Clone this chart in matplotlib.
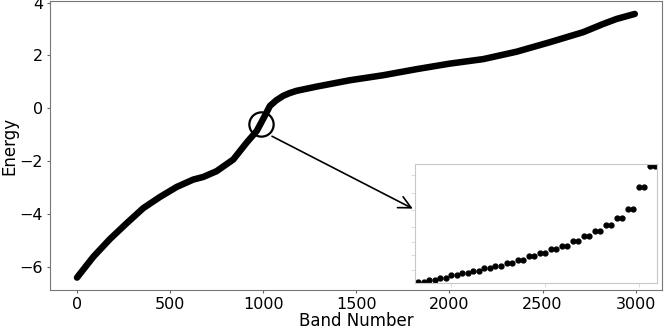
import matplotlib.pyplot as plt

# main curve, points
bands = [0, 88, 177, 267, 356, 445, 535, 624, 678, 750, 839, 911, 965,
         1000, 1036, 1070, 1107, 1140, 1179, 1287, 1465, 1644, 1823, 2002,
         2181, 2360, 2539, 2718, 2825, 2897, 2995]
energy = [-6.41, -5.62, -4.95, -4.35, -3.78, -3.36, -2.98, -2.70, -2.60,
          -2.38, -1.94, -1.30, -0.86, -0.40, 0.09, 0.30, 0.47, 0.57, 0.66,
          0.82, 1.06, 1.25, 1.48, 1.69, 1.86, 2.14, 2.50, 2.88, 3.19, 3.38,
          3.57]

# zoomed bands (inset), degenerate pairs
pair_levels = [-0.895, -0.888, -0.880, -0.869, -0.861, -0.851, -0.841,
               -0.831, -0.820, -0.807, -0.792, -0.780, -0.765, -0.751,
               -0.732, -0.712, -0.693, -0.669, -0.641, -0.604, -0.517,
               -0.431]
inset_energy = [e for e in pair_levels for _ in range(2)]
inset_bands = list(range(966, 966 + len(inset_energy)))

circle_center = (988, -0.61)
arrow_start = (1047, -1.06)
arrow_end = (1803, -3.80)

fig = plt.figure(figsize=(6.64, 3.30), dpi=100)
ax = fig.add_axes([50 / 664, 40 / 330, 612 / 664, 289 / 330])

ax.plot(bands, energy, color="black", lw=4.7, solid_capstyle="round",
        solid_joinstyle="round")

ax.plot(*circle_center, marker="o", markersize=17.5, fillstyle="none",
        markeredgecolor="black", markeredgewidth=1.6)

ax.annotate("", xy=arrow_end, xytext=arrow_start,
            arrowprops=dict(arrowstyle="->", color="black", lw=1.2,
                            mutation_scale=22, shrinkA=0, shrinkB=0))

ax.set_xlim(-145, 3141)
ax.set_ylim(-6.88, 4.06)
ax.set_xticks([0, 500, 1000, 1500, 2000, 2500, 3000])
ax.set_yticks([-6, -4, -2, 0, 2, 4])
ax.tick_params(labelsize=11.5, color="#666666", length=2.5, pad=2.5)
for s in ax.spines.values():
    s.set_color("#777777")
ax.set_xlabel("Band Number", fontsize=12, labelpad=0)
ax.set_ylabel("Energy", fontsize=12, labelpad=1)

ins = fig.add_axes([415 / 664, 47 / 330, 242 / 664, 119 / 330])
ins.plot(inset_bands, inset_energy, "o", color="black", markersize=3.5)
ins.set_xlim(inset_bands[0] - 0.6, inset_bands[-1] + 0.3)
ins.set_ylim(-0.900, -0.424)
ins.set_xticks([972, 989, 1006])
ins.set_yticks([-0.848, -0.788, -0.736, -0.676, -0.608, -0.54, -0.468])
ins.tick_params(colors="#dddddd", labelleft=False, labelbottom=False,
                length=3)
for s in ins.spines.values():
    s.set_color("#c8c8c8")

fig.savefig("out.png", dpi=100)
